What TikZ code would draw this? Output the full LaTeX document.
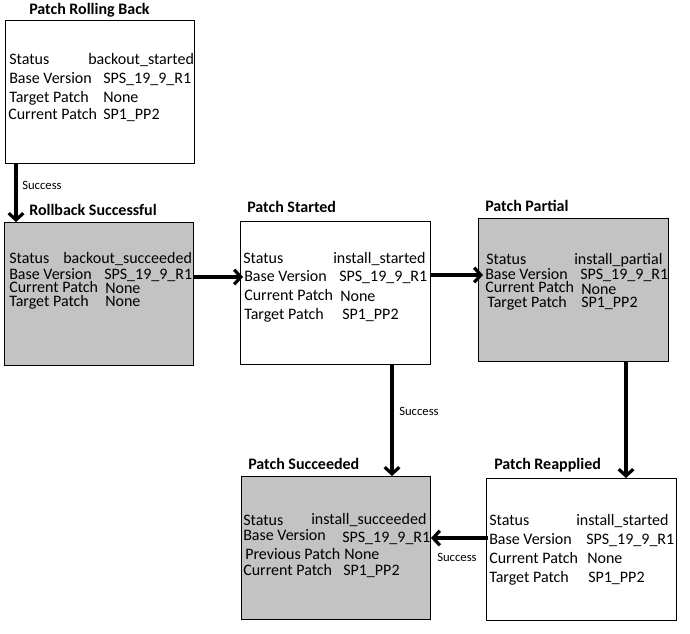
\documentclass[tikz,border=0pt]{standalone}
\usepackage{fontspec}
\setmainfont{Carlito}
\usetikzlibrary{arrows.meta,calc}
\definecolor{boxgray}{RGB}{195,195,195}
\tikzset{
  box/.style={draw=black, line width=0.75pt, anchor=north west, inner sep=0pt},
  graybox/.style={box, fill=boxgray},
  whitebox/.style={box, fill=white},
  txt/.style={anchor=west, inner sep=0pt, font=\fontsize{12}{12}\selectfont, text height=8.3pt, text depth=0.5pt},
  ttl/.style={anchor=west, inner sep=0pt, font=\fontsize{12}{12}\selectfont\bfseries, text height=8.3pt, text depth=0.5pt},
  lbl/.style={anchor=west, inner sep=0pt, font=\fontsize{9.5}{9.5}\selectfont, text height=6.5pt, text depth=0.5pt},
  arr/.style={line width=3pt, -{Straight Barb[length=5pt,width=11pt,line width=2.4pt]}}
}
\begin{document}
\begin{tikzpicture}[x=0.75pt,y=-0.75pt]
\useasboundingbox (0,0) rectangle (690,633);
% boxes
\node[whitebox, minimum width={189*0.75pt}, minimum height={143*0.75pt}] (b1) at (5,20) {};
\node[graybox, minimum width={189*0.75pt}, minimum height={143*0.75pt}] (b2) at (4,222) {};
\node[whitebox, minimum width={190*0.75pt}, minimum height={143*0.75pt}] (b3) at (240,221) {};
\node[graybox, minimum width={190*0.75pt}, minimum height={143*0.75pt}] (b4) at (478,218) {};
\node[graybox, minimum width={189*0.75pt}, minimum height={143*0.75pt}] (b5) at (241,476) {};
\node[whitebox, minimum width={190*0.75pt}, minimum height={142*0.75pt}] (b6) at (486,478) {};
% titles
\node[ttl] (t1) at (29,9) {Patch Rolling Back};
\node[ttl] (t2) at (29,210) {Rollback Successful};
\node[ttl] (t3) at (247,207) {Patch Started};
\node[ttl] (t4) at (485,206) {Patch Partial};
\node[ttl] (t5) at (248,464) {Patch Succeeded};
\node[ttl] (t6) at (494,464) {Patch Reapplied};
% box 1
\node[txt] (b1s) at (9,59) {Status};
\node[txt] (b1sv) at (88,59) {backout\_started};
\node[txt] (b1b) at (9,78) {Base Version};
\node[txt] (b1bv) at (103,78) {SPS\_19\_9\_R1};
\node[txt] (b1t) at (9,97) {Target Patch};
\node[txt] (b1tv) at (103,97) {None};
\node[txt] (b1c) at (8,114) {Current Patch};
\node[txt] (b1cv) at (103,114) {SP1\_PP2};
% box 2
\node[txt] (b2s) at (9,258) {Status};
\node[txt] (b2sv) at (63,258) {backout\_succeeded};
\node[txt] (b2b) at (9,274) {Base Version};
\node[txt] (b2bv) at (104,274) {SPS\_19\_9\_R1};
\node[txt] (b2c) at (9,287) {Current Patch};
\node[txt] (b2cv) at (105,288) {None};
\node[txt] (b2t) at (9,301) {Target Patch};
\node[txt] (b2tv) at (105,301) {None};
% box 3
\node[txt] (b3s) at (243,258) {Status};
\node[txt] (b3sv) at (333,258) {install\_started};
\node[txt] (b3b) at (244,276) {Base Version};
\node[txt] (b3bv) at (339,276) {SPS\_19\_9\_R1};
\node[txt] (b3c) at (244,295) {Current Patch};
\node[txt] (b3cv) at (340,296) {None};
\node[txt] (b3t) at (244,314) {Target Patch};
\node[txt] (b3tv) at (342,314) {SP1\_PP2};
% box 4
\node[txt] (b4s) at (486,259) {Status};
\node[txt] (b4sv) at (574,259) {install\_partial};
\node[txt] (b4b) at (485,274) {Base Version};
\node[txt] (b4bv) at (580,274) {SPS\_19\_9\_R1};
\node[txt] (b4c) at (485,287) {Current Patch};
\node[txt] (b4cv) at (581,289) {None};
\node[txt] (b4t) at (487,302) {Target Patch};
\node[txt] (b4tv) at (581,302) {SP1\_PP2};
% box 5
\node[txt] (b5s) at (243,520) {Status};
\node[txt] (b5sv) at (311,519) {install\_succeeded};
\node[txt] (b5b) at (243,535) {Base Version};
\node[txt] (b5bv) at (342,537) {SPS\_19\_9\_R1};
\node[txt] (b5p) at (245,554) {Previous Patch};
\node[txt] (b5pv) at (344,554) {None};
\node[txt] (b5c) at (243,570) {Current Patch};
\node[txt] (b5cv) at (343,570) {SP1\_PP2};
% box 6
\node[txt] (b6s) at (489,520) {Status};
\node[txt] (b6sv) at (576,520) {install\_started};
\node[txt] (b6b) at (489,539) {Base Version};
\node[txt] (b6bv) at (586,539) {SPS\_19\_9\_R1};
\node[txt] (b6c) at (489,558) {Current Patch};
\node[txt] (b6cv) at (587,558) {None};
\node[txt] (b6t) at (489,577) {Target Patch};
\node[txt] (b6tv) at (588,577) {SP1\_PP2};
% connectors
\draw[arr] ($(b1.south west)+(11,0)$) -- ($(b2.north west)+(12,0)$);
\node[lbl] (l1) at (22,185) {Success};
\draw[arr] ($(b2.north east)+(0,55)$) -- ($(b3.north west)+(3,56)$);
\draw[arr] ($(b3.north east)+(0,54)$) -- ($(b4.north west)+(5,57)$);
\draw[arr] ($(b3.south west)+(152,0)$) -- ($(b5.north west)+(151,0)$);
\node[lbl] (l2) at (399,411) {Success};
\draw[arr] ($(b4.south west)+(148,0)$) -- ($(b6.north west)+(140,0)$);
\draw[arr] ($(b6.north west)+(2,60)$) -- ($(b5.north east)+(0,62)$);
\node[lbl] (l3) at (437,557) {Success};
\end{tikzpicture}
\end{document}
